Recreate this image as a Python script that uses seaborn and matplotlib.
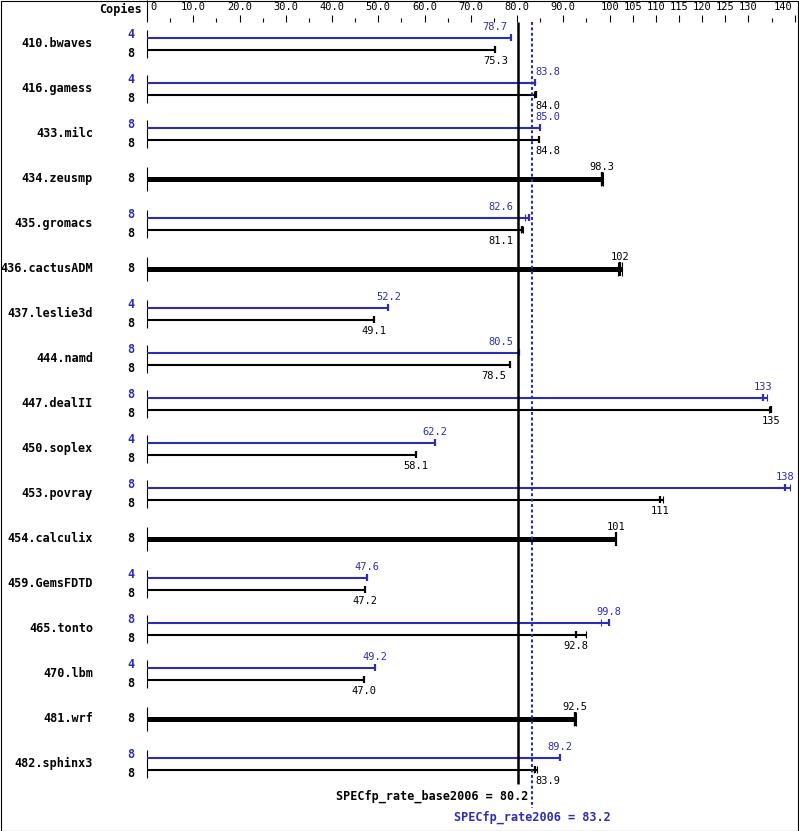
import matplotlib
matplotlib.use("Agg")
import matplotlib.pyplot as plt
import matplotlib.patches as patches
import seaborn as sns
import numpy as np

# SPEC CPU2006 fp rate results
benchmarks = ["410.bwaves", "416.gamess", "433.milc", "434.zeusmp", "435.gromacs",
              "436.cactusADM", "437.leslie3d", "444.namd", "447.dealII", "450.soplex",
              "453.povray", "454.calculix", "459.GemsFDTD", "465.tonto", "470.lbm",
              "481.wrf", "482.sphinx3"]
base_copies = [8, 8, 8, 8, 8, 8, 8, 8, 8, 8, 8, 8, 8, 8, 8, 8, 8]
peak_copies = [4, 4, 8, None, 8, None, 4, 8, 8, 4, 8, None, 4, 8, 4, None, 8]

base_ratio = [75.3, 84.0, 84.8, 98.3, 81.1, 102.2, 49.1, 78.5, 134.9, 58.1, 111.0, 101.4, 47.2, 92.8, 47.0, 92.5, 83.9]
base_lo = [75.3, 83.7, 84.8, 98.1, 80.8, 101.8, 49.1, 78.5, 134.4, 58.1, 111.0, 101.4, 47.2, 92.8, 47.0, 92.3, 83.7]
base_hi = [75.3, 84.0, 84.8, 98.6, 81.3, 102.7, 49.1, 78.5, 134.9, 58.1, 111.5, 101.4, 47.2, 95.0, 47.0, 92.8, 84.2]

peak_ratio = [78.7, 83.8, 85.0, None, 82.6, None, 52.2, 80.5, 133.2, 62.2, 138.0, None, 47.6, 99.8, 49.2, None, 89.2]
peak_lo = [78.7, 83.8, 85.0, None, 81.7, None, 52.2, 80.5, 133.2, 62.2, 138.0, None, 47.6, 98.2, 49.2, None, 89.2]
peak_hi = [78.7, 83.8, 85.0, None, 82.6, None, 52.2, 80.5, 134.0, 62.2, 139.0, None, 47.6, 99.8, 49.2, None, 89.2]

base_score = 80.2
peak_score = 83.2

major_ticks = [0, 10, 20, 30, 40, 50, 60, 70, 80, 90, 100, 105, 110, 115, 120, 125, 130, 140]
minor_ticks = [5, 15, 25, 35, 45, 55, 65, 75, 85, 95, 135]
tick_labels = ["0", "10.0", "20.0", "30.0", "40.0", "50.0", "60.0", "70.0", "80.0", "90.0",
               "100", "105", "110", "115", "120", "125", "130", "140"]

BLUE = "#2d2db4"
W, H = 799, 831
X0 = 147          # pixel of value 0
PPU = 4.626       # pixels per unit
TOP, STEP = 43.8, 45.0

sns.set_theme(style="white")
plt.rcParams["font.family"] = ["DejaVu Sans Mono"]
plt.rcParams["text.color"] = "black"

fig = plt.figure(figsize=(W / 100, H / 100), dpi=100)
ax = fig.add_axes([0, 0, 1, 1])
ax.set_xlim(-X0 / PPU, (W - X0) / PPU)
ax.set_ylim(H, 0)
ax.axis("off")


def px(p):
    return p / PPU


def fmt(v):
    return f"{v:.0f}" if v >= 100 else f"{v:.1f}"


def value_label(v, y, color):
    s = fmt(v)
    w = 6.2 * len(s)
    cx = X0 + v * PPU
    bpx = X0 + base_score * PPU
    ppx = X0 + peak_score * PPU
    if cx + w / 2 > bpx - 3 and cx - w / 2 < ppx + 3:
        if v > peak_score:
            ax.text(peak_score + px(3), y, s, ha="left", va="center", color=color, fontsize=7.5)
        else:
            r = min(cx - 4, bpx - 5)
            ax.text((r - X0) / PPU, y, s, ha="right", va="center", color=color, fontsize=7.5)
    else:
        ax.text(v, y, s, ha="center", va="center", color=color, fontsize=7.5)


def bar(y, val, lo, hi, color, lw, th):
    end = max(val, hi)
    ax.hlines(y, 0, end, color=color, lw=lw)
    for t in sorted(set([lo, hi])):
        if t != val:
            ax.vlines(t, y - th, y + th, color=color, lw=0.8)
    ax.vlines(val, y - th, y + th, color=color, lw=1.6)


# top scale
ax.vlines(0, 0, 22, color="black", lw=0.8)
for t in major_ticks[1:]:
    ax.vlines(t, 15, 22, color="black", lw=0.8)
for t in minor_ticks:
    ax.vlines(t, 18, 22, color="black", lw=0.8)
for t, lab in zip(major_ticks, tick_labels):
    if t == 0:
        ax.text(px(3), 7, lab, ha="left", va="center", fontsize=7.5)
    elif t == major_ticks[-1]:
        ax.text(t - px(2), 7, lab, ha="right", va="center", fontsize=7.5)
    else:
        ax.text(t, 7, lab, ha="center", va="center", fontsize=7.5)
ax.text(px(-5), 9, "Copies", ha="right", va="center", fontsize=8.5, fontweight="bold")

rows = TOP + STEP * np.arange(len(benchmarks))
for i, name in enumerate(benchmarks):
    c = rows[i]
    ax.text(px(-54), c, name, ha="right", va="center", fontsize=8.5, fontweight="bold")
    if peak_ratio[i] is None:
        ax.vlines(0, c - 12, c + 12, color="black", lw=0.8)
        ax.text(px(-16), c, str(base_copies[i]), ha="center", va="center",
                fontsize=8.5, fontweight="bold")
        bar(c, base_ratio[i], base_lo[i], base_hi[i], "black", 3.6, 7)
        value_label(base_ratio[i], c - 12, "black")
    else:
        ax.vlines(0, c - 14, c + 14, color="black", lw=0.8)
        ax.text(px(-16), c - 9, str(peak_copies[i]), ha="center", va="center",
                fontsize=8.5, fontweight="bold", color=BLUE)
        ax.text(px(-16), c + 10, str(base_copies[i]), ha="center", va="center",
                fontsize=8.5, fontweight="bold")
        bar(c - 6, peak_ratio[i], peak_lo[i], peak_hi[i], BLUE, 1.5, 3.5)
        bar(c + 6, base_ratio[i], base_lo[i], base_hi[i], "black", 1.5, 3.5)
        value_label(peak_ratio[i], c - 17, BLUE)
        value_label(base_ratio[i], c + 17, "black")

# overall scores
ax.vlines(base_score, 22, 784, color="black", lw=1.8)
ax.plot([peak_score, peak_score], [22, 808], color=BLUE, lw=1.5, ls=(0, (1.4, 1.2)))
ax.text(base_score + px(10), 796, f"SPECfp_rate_base2006 = {base_score}", ha="right",
        va="center", fontsize=8.5, fontweight="bold")
ax.text(peak_score, 817, f"SPECfp_rate2006 = {peak_score}", ha="center",
        va="center", fontsize=8.5, fontweight="bold", color=BLUE)

fig.patches.append(patches.Rectangle((0.5 / W, 0.5 / H), 1 - 1.5 / W, 1 - 1.5 / H,
                                     transform=fig.transFigure, fill=False,
                                     edgecolor="black", lw=0.8))

plt.savefig("out.png", dpi=100)
plt.close()
